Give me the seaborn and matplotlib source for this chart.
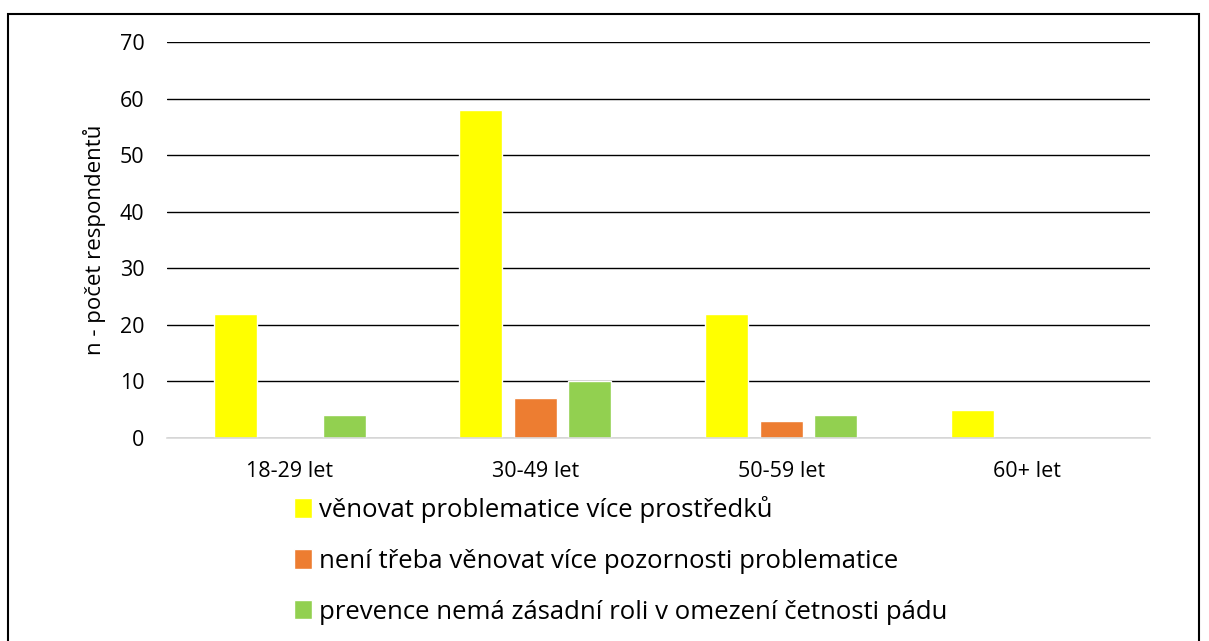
import matplotlib
matplotlib.use("Agg")
import matplotlib.pyplot as plt
import seaborn as sns
import pandas as pd
from matplotlib.patches import Rectangle

categories = ["18-29 let", "30-49 let", "50-59 let", "60+ let"]
series = [
    "věnovat problematice více prostředků",
    "není třeba věnovat více pozornosti problematice",
    "prevence nemá zásadní roli v omezení četnosti pádu",
]
vals_more = [22, 58, 22, 5]
vals_no_need = [0, 7, 3, 0]
vals_no_role = [4, 10, 4, 0]
colors = ["#FFFF00", "#ED7D31", "#92D050"]

rows = []
for values, name in zip([vals_more, vals_no_need, vals_no_role], series):
    for cat, v in zip(categories, values):
        rows.append({"vek": cat, "odpoved": name, "n": v})
df = pd.DataFrame(rows)

sns.set_style("white")
plt.rcParams["font.family"] = ["Open Sans", "DejaVu Sans"]
plt.rcParams["text.color"] = "black"
plt.rcParams["axes.labelcolor"] = "black"

fig = plt.figure(figsize=(12.09, 6.41), dpi=100)
ax = fig.add_axes([0.138, 0.317, 0.813, 0.617])

sns.barplot(data=df, x="vek", y="n", hue="odpoved", palette=colors,
            width=0.665, gap=0.21, saturation=1, ax=ax, legend=True)

ax.set_ylim(0, 70)
ax.set_yticks(range(0, 71, 10))
ax.yaxis.grid(True, color="black", linewidth=1)
ax.set_axisbelow(True)
for s in ["top", "right", "left"]:
    ax.spines[s].set_visible(False)
ax.spines["bottom"].set_color("#D9D9D9")
ax.spines["bottom"].set_linewidth(1.2)
ax.tick_params(axis="both", length=0, labelsize=15.5, colors="black")
ax.tick_params(axis="y", pad=16)
ax.tick_params(axis="x", pad=17)
ax.set_xlabel("")
ax.set_ylabel("n - počet respondentů", fontsize=16, labelpad=10)

# zero bars are not drawn
for p in ax.patches:
    if p.get_height() == 0:
        p.set_visible(False)

sns.move_legend(ax, "upper left", bbox_to_anchor=(0.243, 0.226),
                bbox_transform=fig.transFigure, frameon=False, fontsize=18.5,
                title=None, handlelength=0.7, handleheight=0.8,
                handletextpad=0.3, labelspacing=1.0, borderaxespad=0,
                borderpad=0)
for t in ax.get_legend().get_texts():
    t.set_color("black")

fig.patches.append(Rectangle((8 / 1209, -0.05), 1191 / 1209, 1.05 - 14 / 641,
                             transform=fig.transFigure, fill=False,
                             edgecolor="black", linewidth=1.5))

plt.savefig("out.png", dpi=100)
